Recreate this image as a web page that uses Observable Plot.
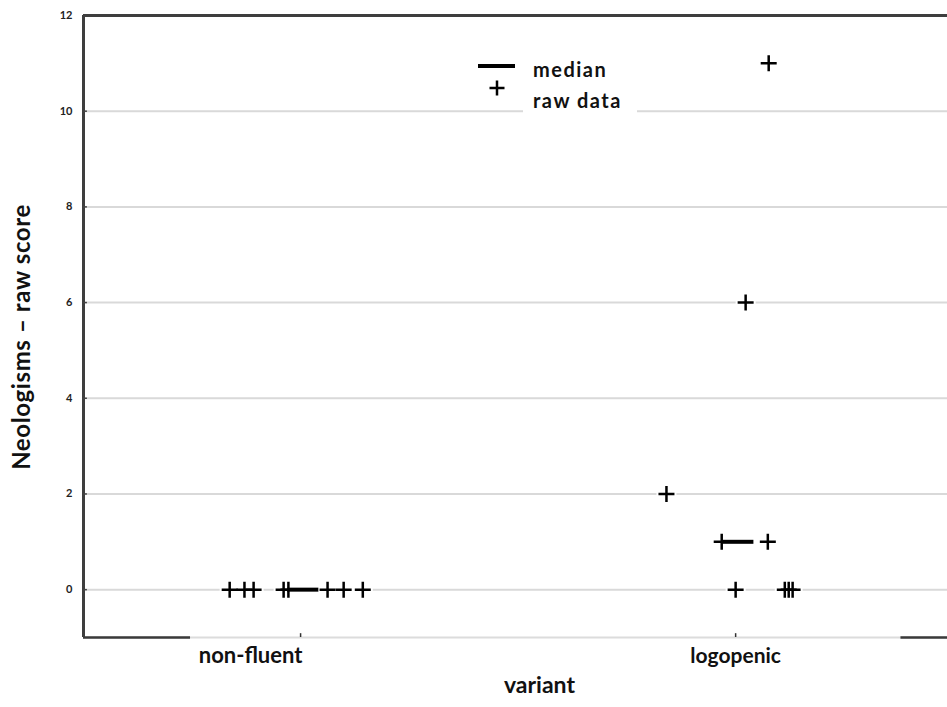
<!DOCTYPE html>
<html><head><meta charset="utf-8">
<script src="https://cdn.jsdelivr.net/npm/d3@7"></script>
<script src="https://cdn.jsdelivr.net/npm/@observablehq/plot@0.6"></script>
<style>
body{margin:0;background:#fff;}
#wrap{position:relative;width:947px;height:707px;font-family:Lato,"Open Sans",sans-serif;}
#legend{position:absolute;left:470px;top:50px;width:170px;height:68px;}
#legend .bg{position:absolute;left:53px;top:0;width:114px;height:68px;background:#fff;}
#legend .t{position:absolute;left:63px;font-weight:700;font-size:20px;letter-spacing:1.5px;color:#111;line-height:1;}
#ylab{position:absolute;left:21px;top:337px;transform:translate(-50%,-50%) rotate(-90deg);white-space:nowrap;font-weight:700;font-size:24px;letter-spacing:0.6px;color:#111;line-height:1;}
</style></head><body><div id="wrap"></div>
<script>
// ---- data ----
const categories = ["non-fluent", "logopenic"];
const nonFluentScores = [0, 0, 0, 0, 0, 0, 0, 0];
const nonFluentJitter = [-0.163, -0.129, -0.108, -0.039, -0.028, 0.062, 0.099, 0.143];
const logopenicScores = [11, 6, 2, 1, 1, 0, 0, 0, 0];
const logopenicJitter = [0.076, 0.023, -0.159, -0.032, 0.074, 0.0, 0.113, 0.122, 0.131];
const yTicks = [0, 2, 4, 6, 8, 10, 12];
const yLabel = "Neologisms – raw score";
const xLabel = "variant";
const legendLabels = ["median", "raw data"];

// ---- build tables ----
const groups = [nonFluentScores, logopenicScores];
const jitters = [nonFluentJitter, logopenicJitter];
const rows = groups.flatMap((g, i) => g.map((s, j) => ({variant: categories[i], idx: i, x: i + jitters[i][j], score: s})));
const medians = groups.map((g, i) => ({variant: categories[i], idx: i, median: d3.median(g)}));

const xDomain = [-0.499, 1.487];
const yDomain = [-1, 12];

const plusSymbol = {draw(ctx, size) {
  const r = Math.sqrt(size / Math.PI);
  ctx.moveTo(-r, 0); ctx.lineTo(r, 0);
  ctx.moveTo(0, -r); ctx.lineTo(0, r);
}};

const font = "Lato, 'Open Sans', sans-serif";
const chart = Plot.plot({
  width: 947, height: 707,
  marginLeft: 83, marginRight: 0, marginTop: 15, marginBottom: 70,
  x: {domain: xDomain, axis: null},
  y: {domain: yDomain, axis: null},
  style: {background: "white", fontFamily: font, overflow: "visible"},
  marks: [
    // gridlines
    Plot.ruleY(yTicks.filter(t => t < yDomain[1]), {stroke: "#d9d9d9", strokeWidth: 2}),
    // bottom axis line (light middle, dark ends)
    Plot.ruleY([yDomain[0]], {stroke: "#dcdcdc", strokeWidth: 2}),
    Plot.ruleY([yDomain[0]], {x1: xDomain[0], x2: -0.253, stroke: "#3a3a3a", strokeWidth: 2.5}),
    Plot.ruleY([yDomain[0]], {x1: 1.38, x2: xDomain[1], stroke: "#3a3a3a", strokeWidth: 2.5}),
    // frame top & left
    Plot.ruleY([yDomain[1]], {stroke: "#3e3e3e", strokeWidth: 3}),
    Plot.ruleX([xDomain[0]], {stroke: "#3e3e3e", strokeWidth: 3}),
    // y ticks (inside) + labels
    Plot.axisY(yTicks, {anchor: "left", tickSize: 0, tickPadding: 11, fontSize: 11, fontWeight: 700, fill: "#222", label: null}),
    Plot.ruleY(yTicks.filter(t => t < yDomain[1]), {x1: xDomain[0], x2: xDomain[0] + 0.009, stroke: "#444", strokeWidth: 1.5}),
    // x ticks (small, inside)
    Plot.ruleX([0, 1], {y1: yDomain[0], y2: yDomain[0] + 0.08, stroke: "#333", strokeWidth: 1.5}),
    // x tick labels
    Plot.text([categories[0]], {x: 0, frameAnchor: "bottom", dy: 25, dx: -50, fontSize: 22, fontWeight: 700, fill: "#111"}),
    Plot.text([categories[1]], {x: 1, frameAnchor: "bottom", dy: 25, fontSize: 21, fontWeight: 700, fill: "#111"}),
    // x axis title
    Plot.text([xLabel], {frameAnchor: "bottom", dy: 55, dx: 24, fontSize: 23, fontWeight: 700, fill: "#111"}),
    // halos under crosses
    Plot.dot(rows, {x: "x", y: "score", symbol: plusSymbol, r: 10, stroke: "white", strokeWidth: 6, fill: "none"}),
    // medians
    Plot.ruleY(medians, {x1: d => d.idx - 0.03, x2: d => d.idx + 0.042, y: "median", stroke: "#000", strokeWidth: 4}),
    // raw data crosses
    Plot.dot(rows, {x: "x", y: "score", symbol: plusSymbol, r: 8, stroke: "#000", strokeWidth: 2.5, fill: "none"})
  ]
});
const wrap = document.getElementById("wrap");
wrap.appendChild(chart);

// y axis title
const yl = document.createElement("div");
yl.id = "ylab";
yl.textContent = yLabel;
wrap.appendChild(yl);

// legend
const lg = document.createElement("div");
lg.id = "legend";
lg.innerHTML = `<div class="bg"></div>
<svg width="60" height="68" style="position:absolute;left:0;top:0">
  <line x1="8" x2="45" y1="16" y2="16" stroke="#000" stroke-width="4"/>
  <path d="M27,38 h-7.5 M27,38 h7.5 M27,38 v-7.5 M27,38 v7.5" stroke="#000" stroke-width="2.5"/>
</svg>
<div class="t" style="top:9px">${legendLabels[0]}</div>
<div class="t" style="top:40px">${legendLabels[1]}</div>`;
wrap.appendChild(lg);
</script>
</body></html>
